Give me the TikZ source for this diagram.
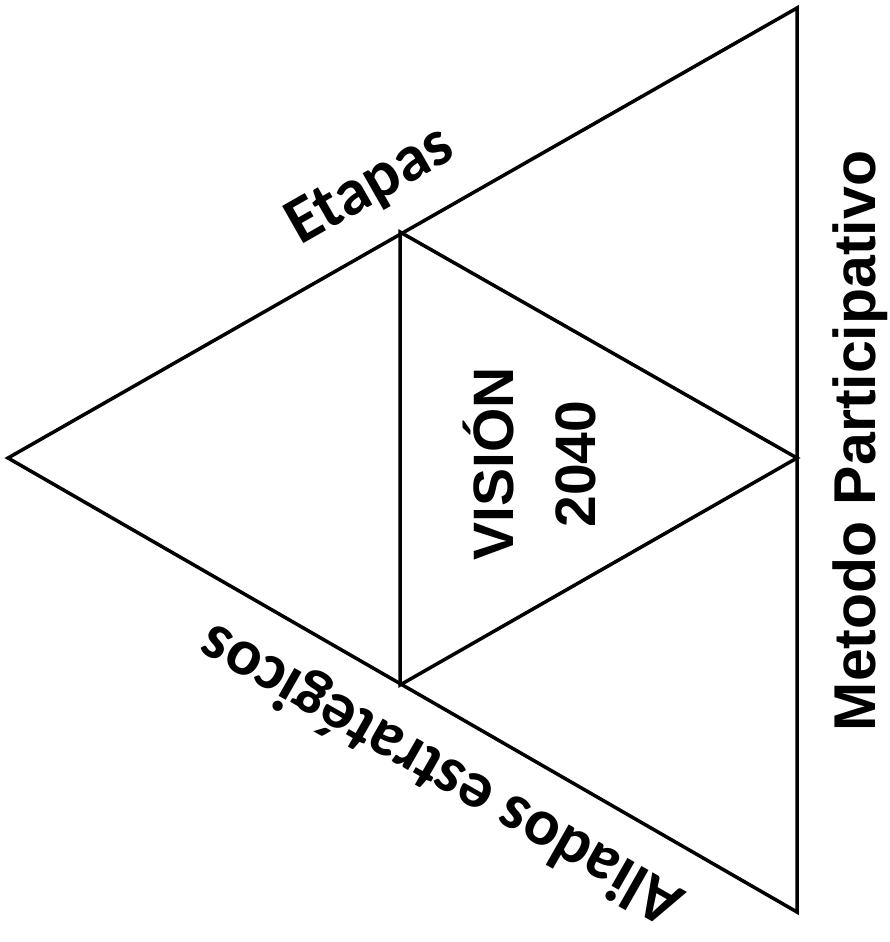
\documentclass[tikz,border=0pt]{standalone}
\usepackage{fontspec}
\setmainfont{Carlito}
\newfontfamily\arialfont{Liberation Sans}
\begin{document}
\begin{tikzpicture}[x=1pt,y=-1pt,
  edge/.style={line width=3.5pt,line join=miter},
  lbl/.style={font=\bfseries\fontsize{66}{66}\selectfont,inner sep=0pt},
  arl/.style={font=\arialfont\bfseries\fontsize{#1}{#1}\selectfont,inner sep=0pt,anchor=base,rotate=90}]
\useasboundingbox (0,0) rectangle (889,942);
\coordinate (T) at (797,8);
\coordinate (B) at (797,912);
\coordinate (L) at (8,458);
\coordinate (M1) at (400,232);
\coordinate (M2) at (400,685);
\coordinate (M3) at (797,458);
\draw[edge] (T) -- (B) -- (L) -- cycle;
\draw[edge] (M1) -- (M2) -- (M3) -- cycle;
\node[lbl,rotate=29.7] (etapas) at (371,187) {Etapas};
\node[lbl,rotate=150.3] (aliados) at (442,773) {Aliados estratégicos};
\node[arl=59] (metodo) at (875,441) {Metodo Participativo};
\node[arl=57] (vision) at (513,464) {VISIÓN};
\node[arl=57] (year) at (595,464) {2040};
\end{tikzpicture}
\end{document}
